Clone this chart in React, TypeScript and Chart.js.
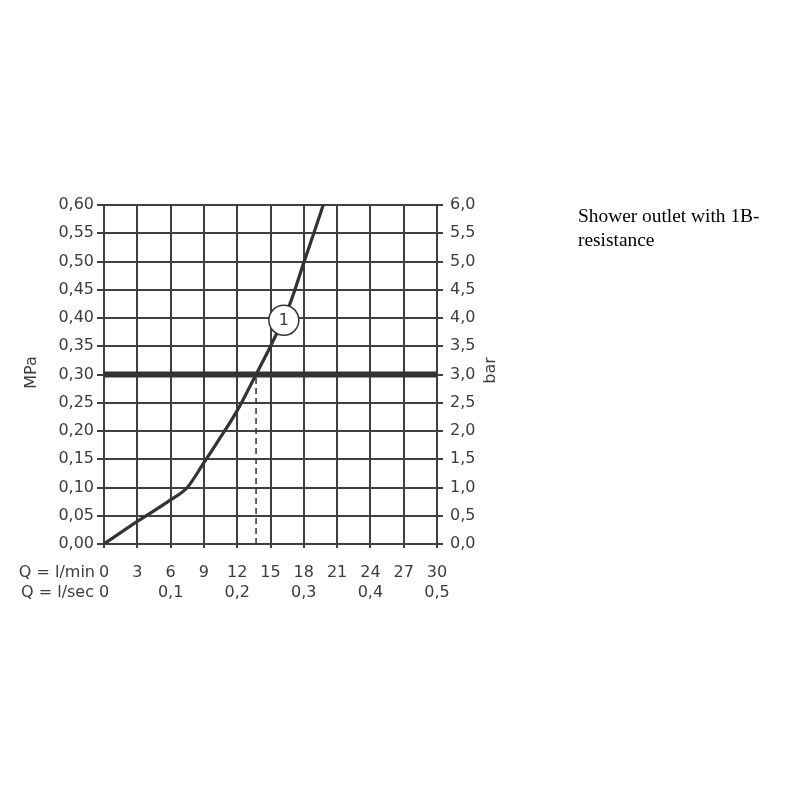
import React, { useEffect, useRef } from "react";
import { Chart, registerables } from "chart.js";
Chart.register(...registerables);

// ---- data ----
const flowLpm = [0, 3, 6, 7.5, 9, 10.2, 12, 13.7, 15, 16.75, 18, 18.9, 19.75];
const pressureMPa = [0, 0.04, 0.078, 0.1, 0.144, 0.18, 0.236, 0.3, 0.35, 0.425, 0.498, 0.55, 0.6];

const xTickValues = [0, 3, 6, 9, 12, 15, 18, 21, 24, 27, 30];
const xMinLabels = ["0", "3", "6", "9", "12", "15", "18", "21", "24", "27", "30"];
const xSecLabels = ["0", "", "0,1", "", "0,2", "", "0,3", "", "0,4", "", "0,5"];
const xRowTitles = ["Q = l/min", "Q = l/sec"];

const yTickValues = [0, 0.05, 0.1, 0.15, 0.2, 0.25, 0.3, 0.35, 0.4, 0.45, 0.5, 0.55, 0.6];
const yMPaLabels = ["0,00", "0,05", "0,10", "0,15", "0,20", "0,25", "0,30", "0,35", "0,40", "0,45", "0,50", "0,55", "0,60"];
const barTickValues = [0, 0.5, 1, 1.5, 2, 2.5, 3, 3.5, 4, 4.5, 5, 5.5, 6];
const yBarLabels = ["0,0", "0,5", "1,0", "1,5", "2,0", "2,5", "3,0", "3,5", "4,0", "4,5", "5,0", "5,5", "6,0"];
const yLeftTitle = "MPa";
const yRightTitle = "bar";

const refPressure = 0.3;
const refFlow = 13.7;
const markerX = 16.2;
const markerY = 0.396;
const markerLabel = "1";
const noteText = "Shower outlet with 1B-resistance";

const INK = "#333333";
const TEXT = "#3c3c3c";
const GRID = "#404040";
const FONT = "'DejaVu Sans'";
const FS = 16;

export default function App() {
  const ref = useRef<HTMLCanvasElement | null>(null);

  useEffect(() => {
    if (!ref.current) return;
    const overlay = {
      id: "overlay",
      afterDatasetsDraw(chart: any) {
        const ctx = chart.ctx;
        const xs = chart.scales.x;
        const ys = chart.scales.y;
        ctx.save();
        ctx.fillStyle = TEXT;
        ctx.font = `${FS}px ${FONT}`;
        ctx.textAlign = "center";
        ctx.textBaseline = "middle";
        ctx.fillText(markerLabel, xs.getPixelForValue(markerX), ys.getPixelForValue(markerY) + 1);
        ctx.restore();
      },
      afterDraw(chart: any) {
        const ctx = chart.ctx;
        const ca = chart.chartArea;
        ctx.save();
        ctx.fillStyle = TEXT;
        ctx.font = `${FS}px ${FONT}`;
        ctx.textAlign = "right";
        ctx.textBaseline = "middle";
        ctx.fillText(xRowTitles[0], 95, ca.bottom + 29);
        ctx.fillText(xRowTitles[1], 94, ca.bottom + 49);
        const cy = (ca.top + ca.bottom) / 2;
        ctx.textAlign = "center";
        ctx.translate(32, cy - 2);
        ctx.rotate(-Math.PI / 2);
        ctx.fillText(yLeftTitle, 0, 0);
        ctx.restore();
        ctx.save();
        ctx.fillStyle = TEXT;
        ctx.font = `${FS}px ${FONT}`;
        ctx.textAlign = "center";
        ctx.textBaseline = "middle";
        ctx.translate(491, cy - 4);
        ctx.rotate(-Math.PI / 2);
        ctx.fillText(yRightTitle, 0, 0);
        ctx.restore();
      },
    };

    const chart = new Chart(ref.current, {
      type: "line",
      data: {
        datasets: [
          {
            label: "marker",
            data: [{ x: markerX, y: markerY }],
            showLine: false,
            pointRadius: 15,
            pointBackgroundColor: "#ffffff",
            pointBorderColor: INK,
            pointBorderWidth: 1.5,
            yAxisID: "y",
          },
          {
            label: "curve",
            data: flowLpm.map((x, i) => ({ x, y: pressureMPa[i] })),
            borderColor: INK,
            borderWidth: 3.2,
            pointRadius: 0,
            cubicInterpolationMode: "monotone",
            fill: false,
            yAxisID: "y",
          },
          {
            label: "ref",
            data: [
              { x: xTickValues[0], y: refPressure },
              { x: xTickValues[xTickValues.length - 1], y: refPressure },
            ],
            borderColor: INK,
            borderWidth: 6,
            pointRadius: 0,
            yAxisID: "y",
          },
          {
            label: "drop",
            data: [
              { x: refFlow, y: 0 },
              { x: refFlow, y: refPressure },
            ],
            borderColor: INK,
            borderWidth: 1.5,
            borderDash: [6, 4],
            pointRadius: 0,
            yAxisID: "y",
          },
        ],
      },
      options: {
        animation: false,
        responsive: false,
        layout: { padding: { top: 205, left: 0, right: 0, bottom: 0 } },
        plugins: { legend: { display: false }, tooltip: { enabled: false } },
        scales: {
          x: {
            type: "linear",
            min: 0,
            max: 30,
            afterBuildTicks: (s: any) => {
              s.ticks = xTickValues.map((v) => ({ value: v }));
            },
            afterFit: (s: any) => {
              s.height = 256;
            },
            ticks: {
              autoSkip: false,
              maxRotation: 0,
              color: TEXT,
              padding: 15,
              font: { family: FONT, size: FS, lineHeight: 1.25 },
              callback: (_v: any, i: number) => [xMinLabels[i], xSecLabels[i]],
            },
            grid: { color: GRID, lineWidth: 2, tickLength: 4 },
            border: { color: GRID, width: 2 },
          },
          y: {
            type: "linear",
            position: "left",
            min: 0,
            max: 0.6,
            afterBuildTicks: (s: any) => {
              s.ticks = yTickValues.map((v) => ({ value: v }));
            },
            afterFit: (s: any) => {
              s.width = 104;
            },
            ticks: {
              color: TEXT,
              padding: 3,
              font: { family: FONT, size: FS },
              callback: (_v: any, i: number) => yMPaLabels[i],
            },
            grid: { color: GRID, lineWidth: 2, tickLength: 7 },
            border: { color: GRID, width: 2 },
          },
          y2: {
            type: "linear",
            position: "right",
            min: 0,
            max: 6,
            afterBuildTicks: (s: any) => {
              s.ticks = barTickValues.map((v) => ({ value: v }));
            },
            afterFit: (s: any) => {
              s.width = 363;
            },
            ticks: {
              color: TEXT,
              padding: 7,
              font: { family: FONT, size: FS },
              callback: (_v: any, i: number) => yBarLabels[i],
            },
            grid: { drawOnChartArea: false, color: GRID, lineWidth: 2, tickLength: 6 },
            border: { color: GRID, width: 2 },
          },
        },
      },
      plugins: [overlay],
    } as any);
    return () => chart.destroy();
  }, []);

  return (
    <div style={{ position: "absolute", left: 0, top: 0, width: 800, height: 800, background: "#fff" }}>
      <canvas ref={ref} width={800} height={800} style={{ position: "absolute", left: 0, top: 0 }} />
      <div
        style={{
          position: "absolute",
          left: 578,
          top: 204,
          width: 192,
          fontFamily: "'Liberation Serif', 'Times New Roman', serif",
          fontSize: 19.4,
          lineHeight: "24px",
          color: "#000",
        }}
      >
        {noteText}
      </div>
    </div>
  );
}
